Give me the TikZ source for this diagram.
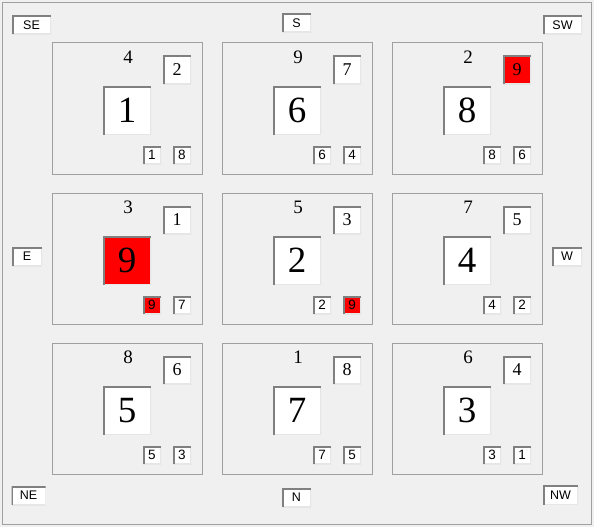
\documentclass[tikz,border=0pt]{standalone}
\usepackage{fontspec}
\setmainfont{Liberation Serif}
\newfontfamily\lsans{Liberation Sans}
\definecolor{bgcol}{HTML}{F0F0F0}
\definecolor{framecol}{HTML}{A0A0A0}
\definecolor{cellcol}{HTML}{A0A0A0}
\definecolor{shadowcol}{HTML}{808080}
\definecolor{hicol}{HTML}{E6E6E6}
\definecolor{hotred}{HTML}{FF0000}
\tikzset{
  sunk/.style={fill=white, inner sep=0pt, anchor=center, text=black,
    path picture={
      \draw[line width=2pt, hicol] (path picture bounding box.south west) -- (path picture bounding box.south east) -- (path picture bounding box.north east);
      \draw[line width=3pt, shadowcol] (path picture bounding box.south west) -- (path picture bounding box.north west) -- (path picture bounding box.north east);
    }},
  bigbox/.style={sunk, minimum width=48pt, minimum height=48pt, font=\fontsize{37}{37}\selectfont},
  cornerbox/.style={sunk, minimum width=28pt, minimum height=28pt, font=\fontsize{18}{18}\selectfont},
  tinybox/.style={sunk, minimum width=18pt, minimum height=18pt, font=\lsans\fontsize{13.5}{13.5}\selectfont},
  dirbox/.style={sunk, minimum height=19pt, font=\lsans\fontsize{12.5}{12.5}\selectfont},
  topnum/.style={inner sep=0pt, font=\fontsize{19}{19}\selectfont},
  cellframe/.style={draw=cellcol, line width=1pt, minimum width=150pt, minimum height=131pt, inner sep=0pt}
}
\begin{document}
\begin{tikzpicture}[x=1pt,y=-1pt]
\fill[bgcol] (0,0) rectangle (594,527);
\draw[framecol, line width=1pt] (2.5,2.5) rectangle (591.5,524.5);
\foreach \r/\c/\t/\s/\b/\l/\rr/\sf/\bf/\lf/\rf in {
  1/1/4/2/1/1/8/white/white/white/white,
  1/2/9/7/6/6/4/white/white/white/white,
  1/3/2/9/8/8/6/hotred/white/white/white,
  2/1/3/1/9/9/7/white/hotred/hotred/white,
  2/2/5/3/2/2/9/white/white/white/hotred,
  2/3/7/5/4/4/2/white/white/white/white,
  3/1/8/6/5/5/3/white/white/white/white,
  3/2/1/8/7/7/5/white/white/white/white,
  3/3/6/4/3/3/1/white/white/white/white}{
  \pgfmathsetmacro{\ox}{52+170*(\c-1)}
  \pgfmathsetmacro{\oy}{43+150*(\r-1)}
  \node[cellframe] (cell\r\c) at (\ox+75,\oy+65.5) {};
  \node[topnum] (top\r\c) at (\ox+76,\oy+14) {\t};
  \node[cornerbox, fill=\sf] (corner\r\c) at (\ox+125,\oy+27) {\s};
  \node[bigbox, fill=\bf] (big\r\c) at (\ox+75,\oy+67.5) {\b};
  \node[tinybox, fill=\lf] (left\r\c) at (\ox+100,\oy+112) {\l};
  \node[tinybox, fill=\rf] (right\r\c) at (\ox+130,\oy+112) {\rr};
}
\node[dirbox, minimum width=39pt] (se) at (31.5,25) {SE};
\node[dirbox, minimum width=29pt] (s) at (296.5,23) {S};
\node[dirbox, minimum width=39pt] (sw) at (562.5,25) {SW};
\node[dirbox, minimum width=30pt] (e) at (27,256.5) {E};
\node[dirbox, minimum width=30pt] (w) at (567,256.5) {W};
\node[dirbox, minimum width=34pt] (ne) at (28.5,495.5) {NE};
\node[dirbox, minimum width=29pt] (n) at (296.5,497.5) {N};
\node[dirbox, minimum width=35pt] (nw) at (560.5,495) {NW};
\end{tikzpicture}
\end{document}
